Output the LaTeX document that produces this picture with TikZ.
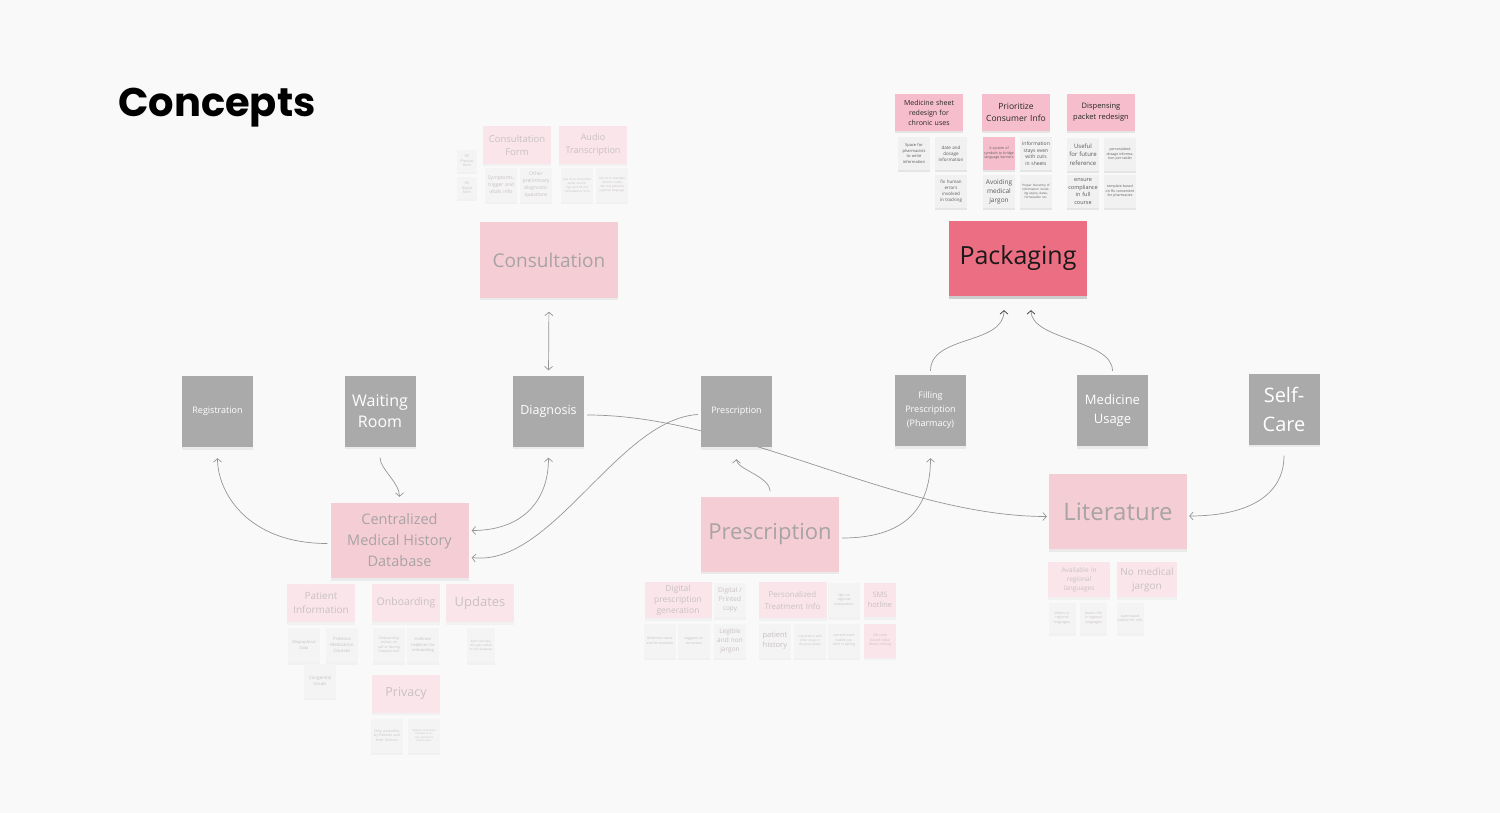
\documentclass[tikz,border=0pt]{standalone}
\usepackage{fontspec}
\setmainfont{Open Sans}
\newfontfamily\titlefont{Poppins}
\usepackage{tikz}
\usetikzlibrary{arrows.meta,calc,positioning,shadows}
\definecolor{canvasbg}{RGB}{249,249,249}
\definecolor{boxgrey}{RGB}{170,170,170}
\definecolor{cardpink}{RGB}{245,205,213}
\definecolor{cardtext}{RGB}{168,163,165}
\definecolor{palepink}{RGB}{250,230,234}
\definecolor{fadetext}{RGB}{200,192,195}
\definecolor{notewhite}{RGB}{244,244,244}
\definecolor{hotpink}{RGB}{236,110,130}
\definecolor{tagpink}{RGB}{246,190,204}
\definecolor{chipwhite}{RGB}{241,241,241}
\definecolor{wire}{RGB}{150,150,150}
\newcommand\fsz[2]{\fontsize{#1}{#2}\selectfont}
\pgfdeclarelayer{canvas}
\pgfdeclarelayer{wires}
\pgfsetlayers{canvas,wires,main}
\tikzset{
  lift/.style={drop shadow={shadow xshift=0pt,shadow yshift=-2.5pt,opacity=#1,fill=black}},
  lift/.default=0.06,
  stage/.style={fill=boxgrey,text=white,minimum width=71pt,minimum height=71pt,
    text width=66pt,align=center,inner sep=0pt,lift},
  card/.style={fill=cardpink,text=cardtext,minimum width=138pt,minimum height=75pt,
    align=center,inner sep=0pt,lift},
  tag/.style={fill=palepink,text=fadetext,minimum width=68pt,minimum height=38pt,
    text width=66pt,align=center,inner sep=0pt,lift=0.03},
  chip/.style={fill=notewhite,text=fadetext,minimum width=32pt,minimum height=34pt,
    text width=30pt,align=center,inner sep=0pt,lift=0.03},
  keytag/.style={fill=tagpink,text=black!85,minimum width=68pt,minimum height=37pt,
    text width=64pt,align=center,inner sep=0pt,lift=0.08},
  keychip/.style={fill=chipwhite,text=black!65,minimum width=32pt,minimum height=33pt,
    text width=30pt,align=center,inner sep=0pt,lift=0.08},
  link/.style={draw=wire,line width=0.7pt,->,>={Straight Barb[length=3.5pt,width=8pt]}},
  darktip/.style={>={Straight Barb[length=3.5pt,width=8pt,color=black!80]}}
}

\begin{document}
\begin{tikzpicture}[x=1pt,y=-1pt,line cap=round,line join=round]
  % Canvas
  \begin{pgfonlayer}{canvas}
    \fill[canvasbg] (0,0) rectangle (1500,813);
  \end{pgfonlayer}
  \useasboundingbox (0,0) rectangle (1500,813);

  % Title
  \node[anchor=west,inner sep=0pt,font=\titlefont\bfseries\fsz{40}{44}] (title) at (118,108) {Concepts};

  % Journey stages
  \node[stage,font=\fsz{9}{12}]    (reg)   at (217.5,411.5) {Registration};
  \node[stage,font=\fsz{16}{21}]   (wait)  at (380,411)     {Waiting\\Room};
  \node[stage,font=\fsz{12.5}{15}] (diag)  at (548.5,411)   {Diagnosis};
  \node[stage,font=\fsz{9}{12}]    (presg) at (736.5,411.5) {Prescription};
  \node[stage,font=\fsz{9}{14}]    (fillp) at (930.5,410.5) {Filling\\Prescription\\(Pharmacy)};
  \node[stage,font=\fsz{13}{19}]   (usage) at (1112.5,410.5) {Medicine\\Usage};
  \node[stage,font=\fsz{20}{29}]   (selfc) at (1284,409)    {Self-\\Care};

  % Concept cards
  \node[card,font=\fsz{19}{24}]   (consult) at (549,260)     {Consultation};
  \node[card,fill=hotpink,text=black!90,font=\fsz{25}{30},lift=0.12] (pack) at (1018,258.5) {Packaging};
  \node[card,font=\fsz{14.5}{21}] (db)      at (399.5,540.5) {Centralized\\Medical History\\Database};
  \node[card,font=\fsz{22}{26}]   (presp)   at (770,534)     {Prescription};
  \node[card,font=\fsz{24}{30}]   (lit)     at (1118,511.5)  {Literature};

  % Consultation notes
  \node[chip,minimum width=20pt,minimum height=22pt,text width=18pt,font=\fsz{3.5}{4.5}] (physf) at (467,161) {Fill\\Physical\\form};
  \node[chip,minimum width=20pt,minimum height=22pt,text width=18pt,font=\fsz{3.5}{4.5}] (digif) at (467,188) {Fill\\Digital\\form};
  \node[tag,font=\fsz{9.5}{13}] (cform)  at (517,145) {Consultation\\Form};
  \node[tag,font=\fsz{9}{13}]   (audio)  at (593,145) {Audio\\Transcription};
  \node[chip,font=\fsz{5}{7}]   (sympt)  at (501,185) {Symptoms, trigger and vitals info};
  \node[chip,font=\fsz{5}{7}]   (prelim) at (536,185) {Other preliminary diagnostic questions};
  \node[chip,font=\fsz{3}{4}]   (aitxt)  at (577,185) {Use AI to transcribe audio recordings and fill the consultation form};
  \node[chip,font=\fsz{3}{4}]   (aitrl)  at (612,185) {Use AI to translate doctor's notes into the patient's regional language};

  % Packaging notes
  \node[keytag,font=\fsz{7}{10}]   (sheet)  at (929,112.5)  {Medicine sheet\\redesign for\\chronic uses};
  \node[keytag,font=\fsz{8.5}{12}] (prio)   at (1016,112.5) {Prioritize\\Consumer Info};
  \node[keytag,font=\fsz{7.5}{11}] (packet) at (1101,112.5) {Dispensing\\packet redesign};
  \node[keychip,font=\fsz{4}{5.5}]   (pharm)   at (914,153.5)  {Space for pharmacists to write information};
  \node[keychip,font=\fsz{4.5}{6}]   (dosage)  at (951,153.5)  {date and dosage information};
  \node[keychip,font=\fsz{4.5}{6}]   (errors)  at (951,191.5)  {fix human errors involved in tracking};
  \node[keychip,fill=tagpink,font=\fsz{3.5}{4.5}] (symbols) at (999,153.5) {A system of symbols to bridge language barriers};
  \node[keychip,font=\fsz{5}{6.5}]   (cuts)    at (1036,153.5) {information stays even with cuts in sheets};
  \node[keychip,font=\fsz{6.5}{9}]   (jargon)  at (999,191.5)  {Avoiding medical jargon};
  \node[keychip,font=\fsz{3}{4}]     (hier)    at (1036,191.5) {Proper hierarchy of information including expiry, dates, formulation etc.};
  \node[keychip,font=\fsz{6}{8.5}]   (future)  at (1083,154.5) {Useful for future reference};
  \node[keychip,font=\fsz{3.5}{4.5}] (pertab)  at (1120,154.5) {personalized dosage information per tablet};
  \node[keychip,font=\fsz{5.5}{7.5}] (comply)  at (1083,191.5) {ensure compliance in full course};
  \node[keychip,font=\fsz{3.5}{4.5}] (templ)   at (1120,191.5) {template based on Rx convenient for pharmacies};

  % Database notes
  \node[tag,font=\fsz{10}{14}]   (patinfo) at (321,603)   {Patient\\Information};
  \node[tag,font=\fsz{10.5}{14}] (onboard) at (406,603)   {Onboarding};
  \node[tag,font=\fsz{13}{16}]   (updates) at (480,603)   {Updates};
  \node[tag,font=\fsz{12.5}{16}] (privacy) at (406,693.5) {Privacy};
  \node[chip,font=\fsz{4}{5.5}]   (bio)     at (304,645)   {Biographical\\Data};
  \node[chip,font=\fsz{4.5}{6}]   (prevmed) at (342,645)   {Previous Medication Courses};
  \node[chip,font=\fsz{4.5}{6}]   (congen)  at (320,680.5) {Congenital issues};
  \node[chip,font=\fsz{3.5}{4.5}] (online)  at (389,645)   {Onboarding online, on call or during hospital visit};
  \node[chip,font=\fsz{4}{5.5}]   (hotl)    at (423,645)   {Hotlines/ helplines for onboarding};
  \node[chip,minimum width=28pt,text width=24pt,font=\fsz{3}{4}] (eachc) at (481,645) {Each consultation gets added to the database};
  \node[chip,font=\fsz{3.5}{4.5}] (access)  at (387,735.5) {Only accessible by Patients and their Doctors};
  \node[chip,text width=26pt,font=\fsz{2.5}{3.5}] (choose)  at (424,735.5) {Patients can choose the level of access granted to their doctors};

  % Prescription notes
  \node[tag,minimum width=67pt,minimum height=36pt,font=\fsz{8.5}{11}] (digigen) at (678,600) {Digital\\prescription\\generation};
  \node[chip,font=\fsz{6.5}{9}]   (copy)     at (730,600)   {Digital /\\Printed\\copy};
  \node[tag,minimum height=36pt,font=\fsz{8}{12}] (personal) at (792.5,600) {Personalized\\Treatment Info};
  \node[chip,font=\fsz{3.5}{4.5}] (signon)   at (844,600)   {Sign on\\regional\\explanation};
  \node[chip,fill=palepink,font=\fsz{7.5}{10}] (sms) at (880,600) {SMS\\hotline};
  \node[chip,font=\fsz{3.5}{4.5}] (medname)  at (660,640.5) {Medicine name and formulation};
  \node[chip,font=\fsz{3.5}{4.5}] (suggest)  at (694,640.5) {suggests alternatives};
  \node[chip,font=\fsz{6.5}{9}]   (legible)  at (730,640.5) {Legible\\and non\\jargon};
  \node[chip,font=\fsz{7.5}{10}]  (history)  at (775,640.5) {patient\\history};
  \node[chip,font=\fsz{3}{4}]     (interact) at (810,640.5) {Interactions with other drugs in the prescription};
  \node[chip,font=\fsz{3.5}{4.5}] (current)  at (844,640.5) {current medication patient is taking};
  \node[chip,fill=palepink,font=\fsz{3.5}{4.5}] (qrcode) at (880,640.5) {QR code based video library linking};

  % Literature notes
  \node[tag,minimum width=62pt,minimum height=35pt,text width=60pt,font=\fsz{6.5}{9}] (avail)  at (1079,579.5) {Available in\\regional\\languages};
  \node[tag,minimum width=60pt,minimum height=35pt,text width=58pt,font=\fsz{10}{14}] (nojarg) at (1147,579.5) {No medical\\jargon};
  \node[chip,minimum width=27pt,minimum height=30pt,text width=25pt,font=\fsz{3.5}{4.5}] (videos)  at (1062,618)   {Videos in regional languages};
  \node[chip,minimum width=27pt,minimum height=30pt,text width=25pt,font=\fsz{3.5}{4.5}] (audinf)  at (1093.5,618) {Audio info in regional languages};
  \node[chip,minimum width=27pt,minimum height=30pt,text width=25pt,font=\fsz{3.5}{4.5}] (autohot) at (1130,618)   {Automated hotline for info};

  % Connectors
  \begin{pgfonlayer}{wires}
    \draw[link,<->,shorten <=14pt,shorten >=5pt] (consult.south) -- (diag.north);
    \draw[link,shorten <=11pt,shorten >=6pt] (wait.south) .. controls +(0,22) and +(0,-20) .. (db.north);
    \draw[link,shorten >=11pt] ($(db.west)+(-3,3)$) .. controls +(-80,0) and +(0,45) .. (reg.south);
    \draw[link,<->,shorten <=11pt] (diag.south) .. controls +(0,55) and +(50,0) .. ($(db.east)+(3,-10)$);
    \draw[link] ($(presg.west)+(-3,3)$) .. controls +(-80,5) and +(80,10) .. ($(db.east)+(3,17)$);
    \draw[link] ($(diag.east)+(3,4)$) .. controls +(150,0) and +(-150,0) .. ($(lit.west)+(-2,5)$); % passes behind presg
    \draw[link,shorten <=5pt,shorten >=12pt] (presp.north) .. controls +(0,-20) and +(0,22) .. (presg.south);
    \draw[link,shorten >=12pt] ($(presp.east)+(3,4)$) .. controls +(70,0) and +(0,55) .. (fillp.south);
    \draw[link,darktip,shorten <=4pt] (fillp.north) .. controls +(0,-40) and +(0,35) .. ($(pack.south)+(-14,14)$);
    \draw[link,darktip,shorten <=4pt] (usage.north) .. controls +(0,-35) and +(0,30) .. ($(pack.south)+(13,14)$);
    \draw[link,shorten <=11pt] (selfc.south) .. controls +(0,50) and +(60,0) .. ($(lit.east)+(2,4.5)$);
  \end{pgfonlayer}

\end{tikzpicture}
\end{document}
